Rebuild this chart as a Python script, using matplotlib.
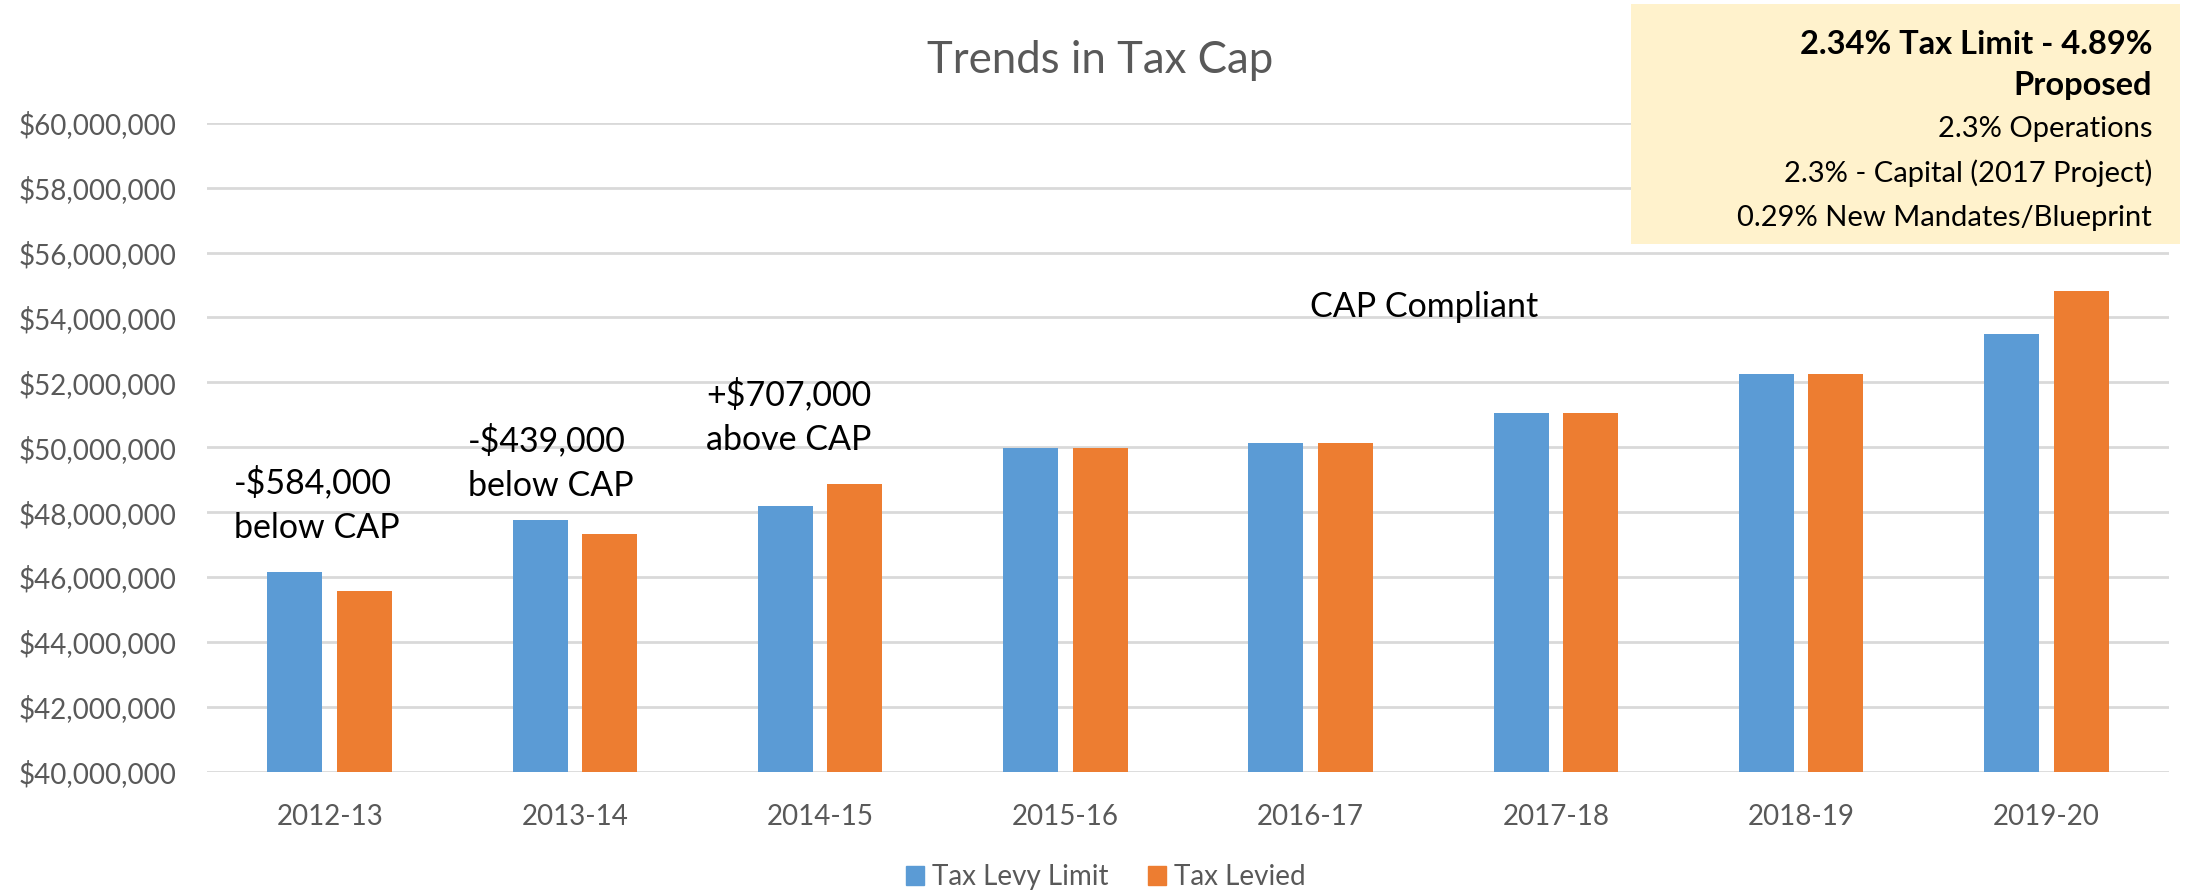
import matplotlib.pyplot as plt
import numpy as np
from matplotlib.patches import Patch
from matplotlib.ticker import FuncFormatter

plt.rcParams['font.family'] = ['Lato', 'DejaVu Sans']

# data
years = ["2012-13", "2013-14", "2014-15", "2015-16", "2016-17", "2017-18", "2018-19", "2019-20"]
levy_limit = [46.14e6, 47.77e6, 48.18e6, 49.97e6, 50.14e6, 51.06e6, 52.26e6, 53.50e6]
levied = [45.56e6, 47.32e6, 48.88e6, 49.97e6, 50.14e6, 51.06e6, 52.26e6, 54.82e6]

# annotation text, left edge px, baseline px of first line (from top)
notes = [("-$584,000\nbelow CAP", 234, 493),
         ("-$439,000\nbelow CAP", 468, 451),
         ("+$707,000\nabove CAP", 706, 405),
         ("CAP Compliant", 1310, 317)]

box_bold = ["2.34% Tax Limit - 4.89%", "Proposed"]
box_lines = ["2.3% Operations", "2.3% - Capital (2017 Project)", "0.29% New Mandates/Blueprint"]

blue = "#5B9BD5"
orange = "#ED7D31"
grey = "#595959"

W, H = 2190, 892
fig = plt.figure(figsize=(W / 100, H / 100), dpi=100)
ax = fig.add_axes([207 / W, 0.1349, (2169 - 207) / W, 0.8624 - 0.1349])

x = np.arange(len(years))
w = 0.224
ax.bar(x - 0.142, levy_limit, w, color=blue, zorder=3)
ax.bar(x + 0.142, levied, w, color=orange, zorder=3)

ax.set_xlim(-0.5, len(years) - 0.5)
ax.set_ylim(40e6, 60e6)
ax.set_yticks(np.arange(40e6, 60.1e6, 2e6))
ax.yaxis.set_major_formatter(FuncFormatter(lambda v, p: f"${v:,.0f}"))
ax.set_xticks(x)
ax.set_xticklabels(years)
ax.tick_params(axis="both", length=0, labelsize=20, labelcolor=grey)
ax.tick_params(axis="x", pad=23)
ax.tick_params(axis="y", pad=22)
ax.grid(axis="y", color="#D9D9D9", linewidth=2, zorder=0)
for s in ax.spines.values():
    s.set_visible(False)

fig.text(1100 / W, 1 - 73 / H, "Trends in Tax Cap", ha="center", va="baseline", fontsize=31.5, color=grey)

for txt, px, py in notes:
    for i, line in enumerate(txt.split("\n")):
        fig.text(px / W, 1 - (py + 45 * i) / H, line, ha="left", va="baseline",
                 fontsize=24.5, color="black")

# yellow text box, top right
fig.patches.append(plt.Rectangle((1631 / W, 1 - 244 / H), (2180 - 1631) / W, 240 / H,
                                 transform=fig.transFigure, facecolor="#FFF2CC", edgecolor="none", zorder=5))
for i, line in enumerate(box_bold):
    fig.text(2152 / W, 1 - (44 + 42 * i) / H, line, ha="right", va="center",
             fontsize=23.5, fontweight="bold", zorder=6)
for i, line in enumerate(box_lines):
    fig.text(2152 / W, 1 - (129 + 44.5 * i) / H, line, ha="right", va="center",
             fontsize=21, zorder=6)

handles = [Patch(color=blue, label="Tax Levy Limit"), Patch(color=orange, label="Tax Levied")]
fig.legend(handles=handles, loc="center", bbox_to_anchor=(1106 / W, 1 - 877 / H), ncol=2,
           frameon=False, fontsize=20, labelcolor=grey, handlelength=0.65, handleheight=0.65,
           handletextpad=0.3, columnspacing=1.4, borderpad=0)

fig.savefig("out.png", dpi=100)
